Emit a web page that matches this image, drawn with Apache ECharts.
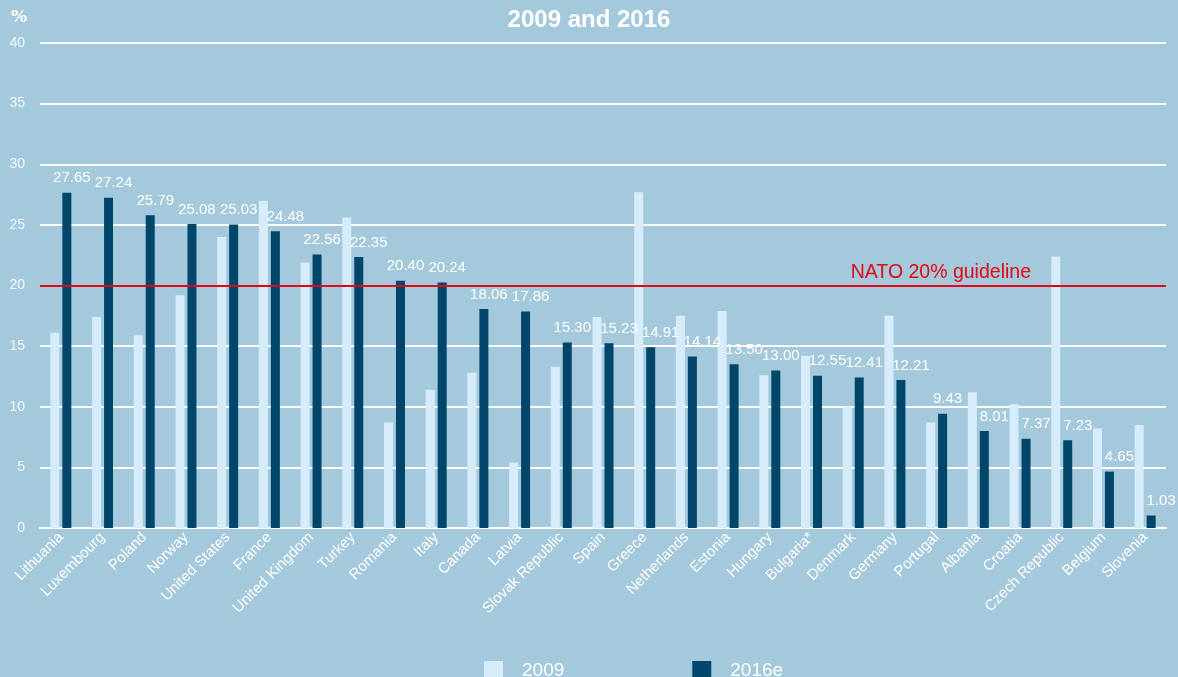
<!DOCTYPE html>
<html>
<head>
<meta charset="utf-8">
<script src="https://cdn.jsdelivr.net/npm/echarts@6/dist/echarts.min.js"></script>
<style>
html,body{margin:0;padding:0;background:#a5c9dc;}
#chart{width:1178px;height:677px;}
</style>
</head>
<body>
<div id="chart"></div>
<script>
const categories = ['Lithuania','Luxembourg','Poland','Norway','United States','France','United Kingdom','Turkey','Romania','Italy','Canada','Latvia','Slovak Republic','Spain','Greece','Netherlands','Estonia','Hungary','Bulgaria*','Denmark','Germany','Portugal','Albania','Croatia','Czech Republic','Belgium','Slovenia'];
const values2016 = [27.65,27.24,25.79,25.08,25.03,24.48,22.56,22.35,20.40,20.24,18.06,17.86,15.30,15.23,14.91,14.14,13.50,13.00,12.55,12.41,12.21,9.43,8.01,7.37,7.23,4.65,1.03];
const values2009 = [16.1,17.4,15.9,19.2,24.0,27.0,21.9,25.6,8.7,11.4,12.8,5.4,13.3,17.4,27.7,17.5,17.9,12.6,14.2,10.0,17.5,8.7,11.2,10.2,22.4,8.2,8.5];
const seriesNames = ['2009','2016e'];
const guideline = 20;
const guidelineText = 'NATO 20% guideline';
const titleText = '2009 and 2016';

const FONT = '"Liberation Sans", Arial, sans-serif';
const chart = echarts.init(document.getElementById('chart'));

const data2016 = values2016.map((v, i) => ({
  value: v,
  label: { offset: [values2009[i] > v ? 10 : 5, 0] }
}));

chart.setOption({
  backgroundColor: '#a5c9dc',
  animation: false,
  title: [
    { text: titleText, left: 'center', top: 3,
      textStyle: { color: '#ffffff', fontSize: 24, fontWeight: 'bold', fontFamily: FONT } },
    { text: '%', left: 6, top: 4,
      textStyle: { color: '#ffffff', fontSize: 17, fontWeight: 'bold', fontFamily: '"DejaVu Serif", serif' } }
  ],
  legend: {
    left: 479, top: 656,
    itemWidth: 19, itemHeight: 19, itemGap: 128,
    icon: 'rect',
    textStyle: { color: '#ffffff', fontSize: 19, fontFamily: FONT, padding: [0, 0, 0, 14] },
    data: seriesNames
  },
  grid: { left: 40, right: 12, top: 43, bottom: 149 },
  xAxis: {
    type: 'category',
    data: categories,
    axisTick: { show: false },
    axisLine: { lineStyle: { color: '#ffffff', width: 2 } },
    axisLabel: { interval: 0, rotate: 45, margin: 7, color: '#ffffff', fontSize: 15, fontFamily: FONT }
  },
  yAxis: {
    type: 'value', min: 0, max: 40, interval: 5,
    axisLine: { show: false }, axisTick: { show: false },
    splitLine: { lineStyle: { color: '#ffffff', width: 2 } },
    axisLabel: { color: '#f4f8fb', fontSize: 14, margin: 15, fontFamily: FONT }
  },
  series: [
    {
      name: seriesNames[0], type: 'bar', data: values2009,
      barWidth: 9, barGap: '33%',
      itemStyle: { color: '#d6ecfa' }
    },
    {
      name: seriesNames[1], type: 'bar', data: data2016,
      barWidth: 9,
      itemStyle: { color: '#00456a' },
      label: {
        show: true, position: 'top', distance: 7,
        color: '#ffffff', fontSize: 15, fontFamily: FONT,
        formatter: p => Number(p.value).toFixed(2)
      },
      markLine: {
        silent: true, symbol: 'none',
        lineStyle: { color: '#e30613', width: 2, type: 'solid' },
        label: {
          show: true, position: 'insideEndTop', distance: [135, 3],
          color: '#e30613', fontSize: 19.5, fontFamily: FONT,
          formatter: guidelineText
        },
        data: [{ yAxis: guideline }]
      },
      z: 3
    }
  ]
});
</script>
</body>
</html>
